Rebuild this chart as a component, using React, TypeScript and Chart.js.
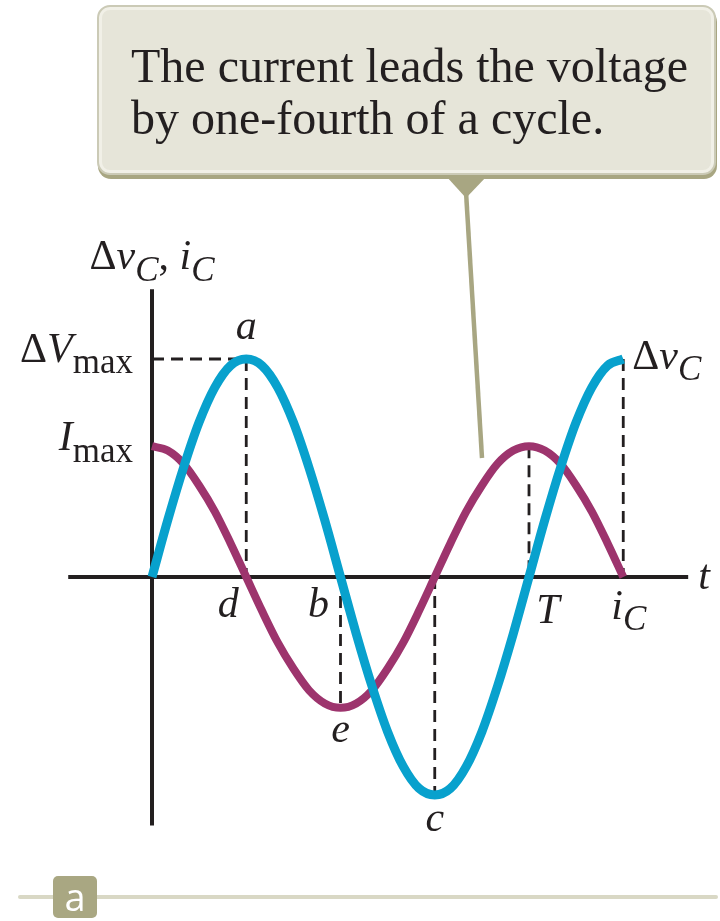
import { useEffect, useRef } from "react";
import { Chart, registerables } from "chart.js";

Chart.register(...registerables);

// Phase of the cycle in degrees (one period T = 360°)
const phaseDeg = [
  0, 15, 30, 45, 60, 75, 90, 105, 120, 135, 150, 165, 180, 195, 210, 225, 240,
  255, 270, 285, 300, 315, 330, 345, 360, 375, 390, 405, 420, 435, 450,
];

// Capacitor voltage Δv_C, in units of ΔV_max
const voltage = [
  0, 0.26, 0.5, 0.71, 0.87, 0.97, 1, 0.97, 0.87, 0.71, 0.5, 0.26, 0, -0.26,
  -0.5, -0.71, -0.87, -0.97, -1, -0.97, -0.87, -0.71, -0.5, -0.26, 0, 0.26, 0.5,
  0.71, 0.87, 0.97, 1,
];

// Capacitor current i_C, on the same vertical scale (peak I_max)
const current = [
  0.6, 0.58, 0.52, 0.42, 0.3, 0.155, 0, -0.155, -0.3, -0.42, -0.52, -0.58, -0.6,
  -0.58, -0.52, -0.42, -0.3, -0.155, 0, 0.155, 0.3, 0.42, 0.52, 0.58, 0.6, 0.58,
  0.52, 0.42, 0.3, 0.155, 0,
];

const V_MAX = 1;
const I_MAX = 0.6;
const PERIOD = 360;
const QUARTER = PERIOD / 4;

// Axis extents in data units
const X_AXIS_FROM = -80;
const X_AXIS_TO = 512;
const Y_AXIS_TOP = 1.32;
const Y_AXIS_BOTTOM = -1.14;

// Page geometry
const W = 720;
const H = 921;
const ORIGIN_X = 152;
const ORIGIN_Y = 577;
const PX_PER_DEG = 377 / 360;
const PX_PER_UNIT = 218;

const SERIF = '"Liberation Serif", "Times New Roman", serif';
const INK = "#231f20";
const BLUE = "#08a1cd";
const PURPLE = "#9d346d";
const OLIVE = "#a8a682";

type Part = { t: string; it?: boolean; sub?: boolean };

function richText(
  ctx: CanvasRenderingContext2D,
  parts: Part[],
  x: number,
  y: number,
  size: number,
  align: "left" | "center" | "right"
) {
  const subSize = Math.round(size * 0.84);
  const fontOf = (p: Part) =>
    `${p.it ? "italic " : ""}${p.sub ? subSize : size}px ${SERIF}`;
  const widths = parts.map((p) => {
    ctx.font = fontOf(p);
    return ctx.measureText(p.t).width;
  });
  const total = widths.reduce((a, b) => a + b, 0);
  let cx = align === "left" ? x : align === "center" ? x - total / 2 : x - total;
  parts.forEach((p, i) => {
    ctx.font = fontOf(p);
    ctx.fillText(p.t, cx, p.sub ? y + size * 0.27 : y);
    cx += widths[i];
  });
}

const labelPlugin = {
  id: "figureLabels",
  beforeDatasetsDraw(chart: Chart) {
    // pointer from the callout down to the current curve
    const ctx = chart.ctx;
    ctx.save();
    ctx.fillStyle = OLIVE;
    ctx.beginPath();
    ctx.moveTo(446, 176);
    ctx.lineTo(487, 176);
    ctx.lineTo(466, 198);
    ctx.closePath();
    ctx.fill();
    ctx.strokeStyle = OLIVE;
    ctx.lineWidth = 4.5;
    ctx.beginPath();
    ctx.moveTo(466, 192);
    ctx.lineTo(482, 458);
    ctx.stroke();
    ctx.restore();
  },
  afterDatasetsDraw(chart: Chart) {
    const ctx = chart.ctx;
    const xs = chart.scales.x;
    const ys = chart.scales.y;
    const px = (v: number) => xs.getPixelForValue(v);
    const py = (v: number) => ys.getPixelForValue(v);
    const S = 42;
    ctx.save();
    ctx.fillStyle = INK;
    ctx.textBaseline = "alphabetic";

    richText(
      ctx,
      [{ t: "Δ" }, { t: "v", it: true }, { t: "C", it: true, sub: true }, { t: ", " }, { t: "i", it: true }, { t: "C", it: true, sub: true }],
      px(0),
      py(Y_AXIS_TOP) - 20,
      S,
      "center"
    );
    richText(ctx, [{ t: "Δ" }, { t: "V", it: true }, { t: "max", sub: true }], 133, py(V_MAX) + 3, S, "right");
    richText(ctx, [{ t: "I", it: true }, { t: "max", sub: true }], 133, py(I_MAX) + 4, S, "right");
    richText(ctx, [{ t: "a", it: true }], px(QUARTER), py(V_MAX) - 20, S, "center");
    richText(
      ctx,
      [{ t: "Δ" }, { t: "v", it: true }, { t: "C", it: true, sub: true }],
      px(PERIOD + QUARTER) + 9,
      py(V_MAX) + 10,
      S,
      "left"
    );
    richText(ctx, [{ t: "t", it: true }], px(X_AXIS_TO) + 10, py(0) + 12, S, "left");
    richText(ctx, [{ t: "d", it: true }], px(QUARTER) - 18, py(0) + 40, S, "center");
    richText(ctx, [{ t: "b", it: true }], px(2 * QUARTER) - 22, py(0) + 40, S, "center");
    richText(ctx, [{ t: "T", it: true }], px(PERIOD) + 19, py(0) + 46, S, "center");
    richText(
      ctx,
      [{ t: "i", it: true }, { t: "C", it: true, sub: true }],
      px(PERIOD + QUARTER) - 12,
      py(0) + 42,
      S,
      "left"
    );
    richText(ctx, [{ t: "e", it: true }], px(2 * QUARTER), py(-I_MAX) + 34, S, "center");
    richText(ctx, [{ t: "c", it: true }], px(3 * QUARTER), py(-V_MAX) + 36, S, "center");
    ctx.restore();
  },
};

function guide(pts: { x: number; y: number }[]) {
  return {
    data: pts,
    borderColor: INK,
    borderWidth: 2.8,
    borderDash: [12, 7],
    pointRadius: 0,
    tension: 0,
    fill: false,
    order: 2,
  };
}

function axis(pts: { x: number; y: number }[]) {
  return {
    data: pts,
    borderColor: INK,
    borderWidth: 4,
    pointRadius: 0,
    tension: 0,
    fill: false,
    borderCapStyle: "butt" as const,
    order: 3,
  };
}

export default function App() {
  const ref = useRef<HTMLCanvasElement>(null);

  useEffect(() => {
    const canvas = ref.current;
    if (!canvas) return;
    const chart = new Chart(canvas, {
      type: "line",
      data: {
        datasets: [
          {
            label: "Δv_C",
            data: phaseDeg.map((x, i) => ({ x, y: voltage[i] })),
            borderColor: BLUE,
            borderWidth: 9,
            cubicInterpolationMode: "monotone",
            pointRadius: 0,
            borderCapStyle: "butt",
            fill: false,
            order: 0,
          },
          {
            label: "i_C",
            data: phaseDeg.map((x, i) => ({ x, y: current[i] })),
            borderColor: PURPLE,
            borderWidth: 8,
            cubicInterpolationMode: "monotone",
            pointRadius: 0,
            borderCapStyle: "butt",
            fill: false,
            order: 1,
          },
          guide([{ x: 0, y: V_MAX }, { x: QUARTER, y: V_MAX }]),
          guide([{ x: QUARTER, y: V_MAX }, { x: QUARTER, y: 0 }]),
          guide([{ x: 2 * QUARTER, y: 0 }, { x: 2 * QUARTER, y: -I_MAX }]),
          guide([{ x: 3 * QUARTER, y: 0 }, { x: 3 * QUARTER, y: -V_MAX }]),
          guide([{ x: PERIOD, y: I_MAX }, { x: PERIOD, y: 0 }]),
          guide([{ x: PERIOD + QUARTER, y: V_MAX }, { x: PERIOD + QUARTER, y: 0 }]),
          axis([{ x: X_AXIS_FROM, y: 0 }, { x: X_AXIS_TO, y: 0 }]),
          axis([{ x: 0, y: Y_AXIS_TOP }, { x: 0, y: Y_AXIS_BOTTOM }]),
        ] as any,
      },
      options: {
        responsive: false,
        animation: false,
        devicePixelRatio: 1,
        events: [],
        layout: { padding: 0 },
        plugins: {
          legend: { display: false },
          tooltip: { enabled: false },
          title: { display: false },
        },
        scales: {
          x: {
            type: "linear",
            display: false,
            min: -ORIGIN_X / PX_PER_DEG,
            max: (W - ORIGIN_X) / PX_PER_DEG,
          },
          y: {
            type: "linear",
            display: false,
            min: -(H - ORIGIN_Y) / PX_PER_UNIT,
            max: ORIGIN_Y / PX_PER_UNIT,
          },
        },
      },
      plugins: [labelPlugin],
    });
    return () => chart.destroy();
  }, []);

  return (
    <div
      style={{
        position: "absolute",
        left: 0,
        top: 0,
        width: W,
        height: H,
        background: "#ffffff",
        overflow: "hidden",
      }}
    >
      <canvas
        ref={ref}
        width={W}
        height={H}
        style={{ position: "absolute", left: 0, top: 0, width: W, height: H }}
      />
      <div
        style={{
          position: "absolute",
          left: 97,
          top: 5,
          width: 619,
          height: 170,
          boxSizing: "border-box",
          background: "#e6e5d9",
          border: "2px solid #cbcab6",
          borderRadius: 13,
          boxShadow: `inset 0 0 0 3px #f1f0e7, 1px 4px 0 ${OLIVE}`,
          fontFamily: SERIF,
          fontSize: 48,
          lineHeight: "52px",
          color: INK,
          padding: "33px 0 0 32px",
          whiteSpace: "nowrap",
        }}
      >
        The current leads the voltage
        <br />
        by one-fourth of a cycle.
      </div>
      <div
        style={{
          position: "absolute",
          left: 18,
          top: 895,
          width: 700,
          height: 4,
          borderRadius: 2,
          background: "#d9d8c5",
        }}
      />
      <div
        style={{
          position: "absolute",
          left: 53,
          top: 876,
          width: 44,
          height: 42,
          borderRadius: 5,
          background: "#a9a782",
          color: "#ffffff",
          fontFamily: '"Liberation Sans Narrow", "Open Sans", "Noto Sans", sans-serif',
          fontSize: 38,
          lineHeight: "40px",
          textAlign: "center",
        }}
      >
        a
      </div>
    </div>
  );
}
